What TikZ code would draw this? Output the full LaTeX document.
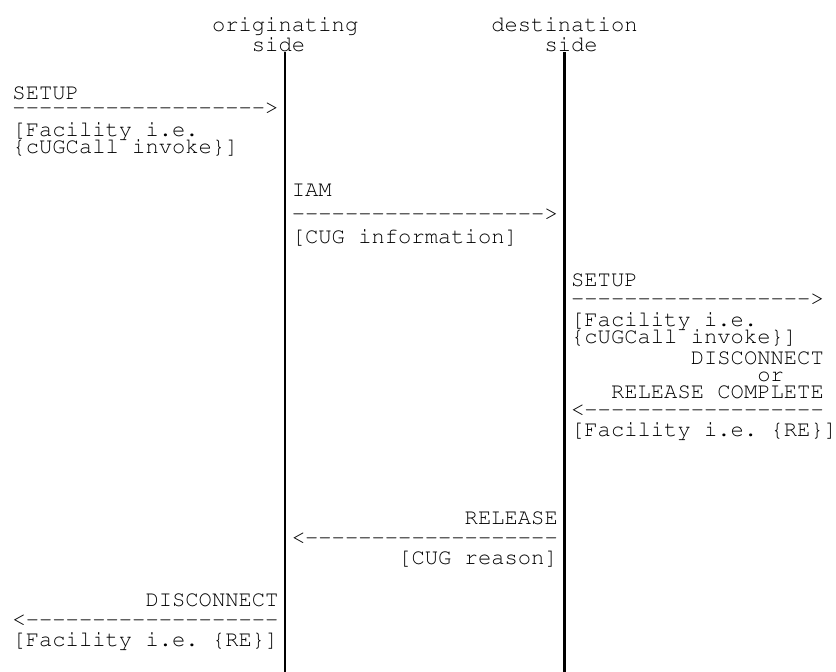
\documentclass[tikz,border=0pt]{standalone}
\usepackage[T1]{fontenc}
\usepackage{courier}
\newcommand\mono{\ttfamily\fontsize{22.17}{22}\selectfont\frenchspacing}
\newcount\hyc
\newcommand\hyphens[1]{\hyc=0\relax\loop\ifnum\hyc<#1\relax-{}\advance\hyc by 1\relax\repeat}
\begin{document}
\begin{tikzpicture}[x=1pt,y=-1pt,
  txt/.style={anchor=base west,inner sep=0pt,outer sep=0pt,font=\mono},
  life/.style={line width=2.2pt,black}]
\useasboundingbox (0,0) rectangle (836,672);
% lifelines
\coordinate (otop) at (285.15,52);
\coordinate (obot) at (285.15,672);
\coordinate (dtop) at (564.45,52);
\coordinate (dbot) at (564.45,672);
\draw[life] (otop) -- (obot);
\draw[life] (dtop) -- (dbot);
% headers
\node[txt] (h1) at (212,31) {originating};
\node[txt] (h2) at (251.9,51.5) {side};
\node[txt] (h3) at (491.3,31) {destination};
\node[txt] (h4) at (544.5,51.5) {side};
% SETUP (left)
\node[txt] (s1) at (12.5,99) {SETUP};
\node[txt] (s1a) at (12.5,114) {\hyphens{19}>};
\node[txt] (s1b) at (12.5,136) {[Facility i.e.};
\node[txt] (s1c) at (12.5,153) {\{cUGCall invoke\}]};
% IAM
\node[txt] (i1) at (291.8,196) {IAM};
\node[txt] (i1a) at (291.8,220) {\hyphens{19}>};
\node[txt] (i1b) at (291.8,243) {[CUG information]};
% SETUP (right)
\node[txt] (s2) at (571.1,286) {SETUP};
\node[txt] (s2a) at (571.1,305) {\hyphens{18}>};
\node[txt] (s2b) at (571.1,326) {[Facility i.e.};
\node[txt] (s2c) at (571.1,343) {\{cUGCall invoke\}]};
% DISCONNECT or RELEASE COMPLETE
\node[txt] (d1) at (690.8,364) {DISCONNECT};
\node[txt] (d1o) at (757.3,381) {or};
\node[txt] (d1r) at (611,398) {RELEASE COMPLETE};
\node[txt] (d1a) at (571.1,416) {<\hyphens{18}};
\node[txt] (d1b) at (571.1,436) {[Facility i.e. \{RE\}]};
% RELEASE
\node[txt] (r1) at (464.7,524) {RELEASE};
\node[txt] (r1a) at (291.8,544) {<\hyphens{19}};
\node[txt] (r1b) at (398.2,564) {[CUG reason]};
% DISCONNECT (left)
\node[txt] (d2) at (145.5,606) {DISCONNECT};
\node[txt] (d2a) at (12.5,626) {<\hyphens{19}};
\node[txt] (d2b) at (12.5,646) {[Facility i.e. \{RE\}]};
\end{tikzpicture}
\end{document}
